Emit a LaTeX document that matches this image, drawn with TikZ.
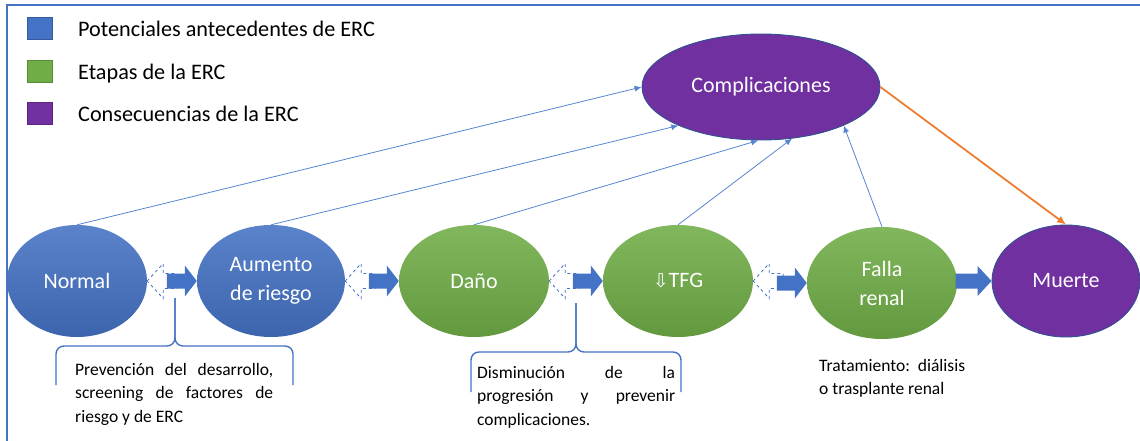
\documentclass[tikz,border=0pt]{standalone}
\usepackage{fontspec}
\setmainfont{Carlito}
\newfontfamily\symbfont{DejaVu Sans}
\usetikzlibrary{shapes.geometric,arrows.meta}
\definecolor{ercblue}{HTML}{4472C4}
\definecolor{ercgreen}{HTML}{70AD47}
\definecolor{ercpurple}{HTML}{7030A0}
\definecolor{ercedge}{HTML}{2F528F}
\definecolor{ercorange}{HTML}{ED7D31}
\definecolor{thinblue}{HTML}{5585D2}
\tikzset{
  stage/.style={ellipse, inner sep=0pt, minimum width=150pt, minimum height=112pt,
    text=white, align=center, font=\fontsize{22}{29}\selectfont},
  bluestage/.style={stage, top color=ercblue!88!white, bottom color=ercblue!88!black},
  greenstage/.style={stage, top color=ercgreen!88!white, bottom color=ercgreen!88!black},
  purplestage/.style={stage, fill=ercpurple, draw=ercedge, line width=0.9pt},
  legendbox/.style={fill=#1, draw=#1!80!black, line width=0.6pt},
  legendtext/.style={anchor=base west, inner sep=0pt, font=\fontsize{22.2}{26}\selectfont},
  notetext/.style={anchor=north west, inner sep=0pt, align=left, font=\fontsize{17.5}{23.5}\selectfont},
  feed/.style={thinblue, line width=0.8pt, -{Latex[length=7pt,width=6pt]}},
  bracket/.style={ercblue, line width=1.4pt, rounded corners=8pt}
}
\newcommand{\dualarrow}[2]{%
  \fill[ercblue] (#2.west) -- ++(-12,-15.5) -- ++(0,8) -- ++(-18,0) -- ++(0,15) -- ++(18,0) -- ++(0,8) -- cycle;
  \draw[ercblue, dashed, line width=0.8pt] (#1.east) -- ++(16,-17.5) -- ++(0,10) -- ++(14,0) -- ++(0,15) -- ++(-14,0) -- ++(0,10) -- cycle;}
\begin{document}
\begin{tikzpicture}[x=1pt,y=-1pt]
  \useasboundingbox (0,0) rectangle (1140,441);
  \draw [ercblue, line width=2pt] (7,441) -- (7,5) -- (1140,5);
  % legend
  \draw [legendbox=ercblue] (27,17) rectangle (52,39);
  \draw [legendbox=ercgreen] (27,60) rectangle (52,82);
  \draw [legendbox=ercpurple] (27,102) rectangle (52,124);
  \node [legendtext] (leg1) at (78,37) {Potenciales antecedentes de ERC};
  \node [legendtext] (leg2) at (78,80) {Etapas de la ERC};
  \node [legendtext] (leg3) at (78,122) {Consecuencias de la ERC};
  % stages
  \node [bluestage, minimum width=140pt] (normal) at (77,281) {Normal};
  \node [bluestage, minimum width=148pt] (aumento) at (271,281) {Aumento\\de riesgo};
  \node [greenstage] (dano) at (474,281) {Daño};
  \node [greenstage] (tfg) at (678,281) {{\symbfont\fontsize{19}{22}\selectfont ⇩}TFG};
  \node [greenstage] (falla) at (882,283) {Falla\\renal};
  \node [purplestage, minimum width=148pt] (muerte) at (1066,281) {Muerte};
  \node [purplestage, minimum width=238pt, minimum height=106pt] (compl) at (761,87) {Complicaciones};
  % block arrows
  \dualarrow{normal}{aumento}
  \dualarrow{aumento}{dano}
  \dualarrow{dano}{tfg}
  \dualarrow{tfg}{falla}
  \fill [ercblue] (muerte.west) -- ++(-14,-15) -- ++(0,7.5) -- ++(-22,0) -- ++(0,15) -- ++(22,0) -- ++(0,7.5) -- cycle;
  % towards complications
  \draw [feed] (normal.north) -- (compl.west);
  \draw [feed] (aumento.north) -- (compl.205);
  \draw [feed] (dano.north) -- (compl.267);
  \draw [feed] (tfg.north) -- (compl.301);
  \draw [feed] (falla.north) -- (compl.335);
  \draw [ercorange, line width=1.8pt, -{Latex[length=9pt,width=8pt]}] (compl.east) -- (muerte.north);
  % brackets and notes
  \draw [bracket] (175,298) -- (175,346) -- (56,346) -- (56,385);
  \draw [bracket] (175,298) -- (175,346) -- (293,346) -- (293,385);
  \draw [bracket] (576,303) -- (576,352) -- (471,352) -- (471,392);
  \draw [bracket] (576,303) -- (576,352) -- (681,352) -- (681,392);
  \node [notetext] (note1) at (75,363) {\hbox to 198pt{Prevención\hfill del\hfill desarrollo,}\\
    \hbox to 198pt{screening\hfill de\hfill factores\hfill de}\\riesgo y de ERC};
  \node [notetext] (note2) at (477,366) {\hbox to 198pt{Disminución\hfill de\hfill la}\\
    \hbox to 198pt{progresión\hfill y\hfill prevenir}\\complicaciones.};
  \node [notetext] (note3) at (819,359) {Tratamiento:\ \ diálisis\\o trasplante renal};
\end{tikzpicture}
\end{document}
